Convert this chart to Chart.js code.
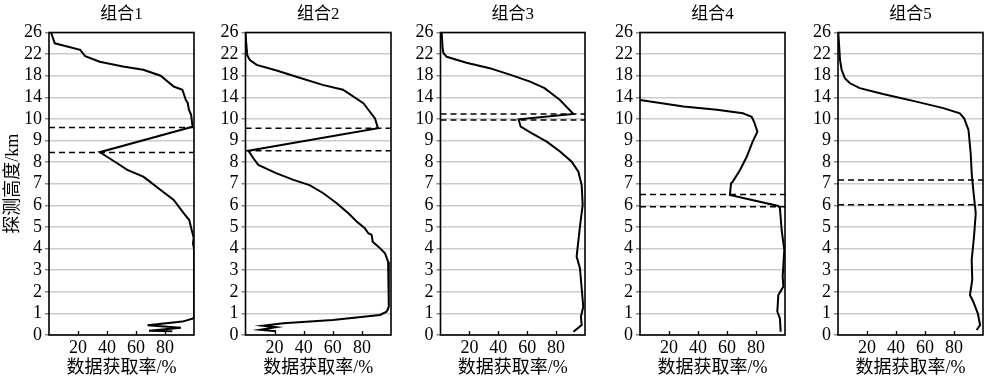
<!DOCTYPE html>
<html><head><meta charset="utf-8">
<script src="https://cdn.jsdelivr.net/npm/chart.js@4.4.1/dist/chart.umd.min.js"></script>
<style>
html,body{margin:0;padding:0;background:#fff;width:1000px;height:379px;overflow:hidden;position:relative}
canvas{position:absolute;top:0}
</style></head><body>
<canvas id="c0"></canvas><canvas id="c1"></canvas><canvas id="c2"></canvas><canvas id="c3"></canvas><canvas id="c4"></canvas>
<script>
// ---- tick labels / categories ----
const yTickLabels = ['0','1','2','3','4','5','6','7','8','9','10','14','18','22','26'];
const xTickValues = [20, 40, 60, 80];
const panelTitles = ['组合1', '组合2', '组合3', '组合4', '组合5'];
const xAxisTitle = '数据获取率/%';
const yAxisTitle = '探测高度/km';

// ---- series: data acquisition rate (%) vs altitude (km) ----
const g1Rate   = [1.4, 4, 21.5, 25, 35, 51, 65, 77, 86, 92, 94.4, 95.6, 96.5, 98, 99, 35, 40, 47, 54, 65, 68, 77, 86, 93, 96.7, 98.4, 99.8, 99.3, 100, 100, 99.5, 92, 68, 91, 69, 85];
const g1Height = [26, 24, 22.8, 21.6, 20.6, 19.7, 19.1, 18, 16, 15.4, 13.5, 13, 11.7, 10.75, 9.64, 8.46, 8.25, 7.95, 7.64, 7.33, 7.18, 6.71, 6.25, 5.63, 5.32, 4.86, 4.5, 4.24, 4.0, 0.85, 0.77, 0.62, 0.45, 0.33, 0.2, 0.17];

const g2Rate   = [0, 0.5, 1.2, 3, 7.7, 21.4, 35, 53, 67, 81, 89, 91, 2, 5.4, 8.8, 21, 33, 44, 53.5, 62.7, 70.7, 76.4, 82, 84.4, 86.7, 87.4, 91.3, 95.9, 98, 98.5, 98.5, 97, 92.4, 60, 26, 12, 21, 10, 21];
const g2Height = [26, 24, 21.8, 20.9, 20, 18.95, 17.8, 16.3, 15.4, 12.9, 10.1, 9.57, 8.53, 8.18, 7.87, 7.49, 7.18, 6.94, 6.56, 6.1, 5.63, 5.25, 4.94, 4.71, 4.63, 4.32, 4.09, 3.78, 3.39, 2.5, 1.31, 1.08, 0.93, 0.69, 0.54, 0.43, 0.36, 0.24, 0.17];

const g3Rate   = [0.8, 1.5, 2, 4.3, 18, 34, 48, 62, 72, 82.7, 92, 54, 55.5, 63, 73.5, 82.7, 90.8, 95.4, 97.7, 98.4, 96.5, 94.2, 96.5, 98.8, 97.2, 97.7, 92];
const g3Height = [26, 23, 22.2, 21.5, 20.4, 19.4, 18.2, 16.9, 15.7, 13.5, 10.9, 9.98, 9.64, 9.34, 8.95, 8.49, 8.02, 7.56, 6.94, 6.02, 5.01, 3.63, 3.09, 1.31, 0.85, 0.46, 0.15];

const g4Rate   = [0, 30, 53, 71, 77, 78.6, 81, 77.7, 73.6, 69, 64, 62.8, 62, 95.4, 96.5, 97.7, 99.5, 98.4, 98.9, 95.4, 94.7, 96.5, 97];
const g4Height = [13.5, 12.3, 11.7, 11.05, 10.4, 9.88, 9.41, 8.95, 8.25, 7.64, 7.1, 7.02, 6.48, 5.97, 5.86, 4.86, 3.94, 2.7, 2.24, 1.85, 1.08, 0.77, 0.15];

const g5Rate   = [0.2, 1.4, 2.5, 4.8, 8.3, 15, 31, 54, 72.6, 84, 87, 90, 91.5, 92.2, 93.3, 95, 93.8, 92.2, 92.6, 91, 93.3, 96.4, 98, 95.6];
const g5Height = [26, 20.9, 19.1, 17.5, 16.6, 15.7, 14.6, 13.2, 12, 11.05, 10.12, 9.49, 8.41, 7.49, 6.71, 5.63, 4.55, 3.47, 2.55, 1.85, 1.54, 1.0, 0.46, 0.23];

// dashed reference altitudes (km)
const g1Dash = [9.6, 8.45];
const g2Dash = [9.57, 8.53];
const g3Dash = [10.9, 9.95];
const g4Dash = [6.5, 5.94];
const g5Dash = [7.17, 6.03];

// ---- layout (pixels) ----
const canvasLeft = [0, 200, 395, 595, 793];
const plotLeft   = [49, 245.5, 440.5, 640, 838];
const plotRight  = [193.5, 390.5, 585, 785, 983];
const H = 379;
const FONT = '"Liberation Serif", "Noto Sans CJK SC", serif';

// altitude axis is piecewise: 0-10 km linear, then 4 km per tick
function toPos(h) { return h <= 10 ? h : 10 + (h - 10) / 4; }

const rates = [g1Rate, g2Rate, g3Rate, g4Rate, g5Rate];
const heights = [g1Height, g2Height, g3Height, g4Height, g5Height];
const dashes = [g1Dash, g2Dash, g3Dash, g4Dash, g5Dash];

const framePlugin = {
  id: 'frame',
  afterDraw(chart, args, opts) {
    const {ctx, chartArea: a, scales} = chart;
    ctx.save();
    ctx.strokeStyle = '#000';
    ctx.lineWidth = 1.6;
    ctx.strokeRect(a.left, a.top, a.right - a.left, a.bottom - a.top);
    ctx.lineWidth = 1.3;
    ctx.beginPath();
    xTickValues.forEach(v => {
      const px = Math.round(scales.x.getPixelForValue(v)) + 0.5;
      ctx.moveTo(px, a.bottom);
      ctx.lineTo(px, a.bottom - 4);
    });
    ctx.stroke();
    // panel title centred over the plot area
    ctx.fillStyle = '#000';
    ctx.font = '17px ' + FONT;
    ctx.textAlign = 'center';
    ctx.textBaseline = 'middle';
    ctx.fillText(opts.text, (a.left + a.right) / 2, 15);
    ctx.restore();
  }
};

for (let i = 0; i < 5; i++) {
  const cv = document.getElementById('c' + i);
  const yW = plotLeft[i] - canvasLeft[i];
  const w = Math.ceil(yW + (plotRight[i] - plotLeft[i]) + 4);
  cv.width = w; cv.height = H;
  cv.style.left = canvasLeft[i] + 'px';
  cv.style.width = w + 'px'; cv.style.height = H + 'px';

  const datasets = [{
    data: rates[i].map((r, k) => ({x: r, y: toPos(heights[i][k])})),
    borderColor: '#000', borderWidth: 2, pointRadius: 0, showLine: true, fill: false, tension: 0
  }];
  dashes[i].forEach(h => datasets.push({
    data: [{x: 0, y: toPos(h)}, {x: 100, y: toPos(h)}],
    borderColor: '#000', borderWidth: 1.5, borderDash: [6, 4], pointRadius: 0, showLine: true, fill: false
  }));

  new Chart(cv, {
    type: 'scatter',
    data: {datasets},
    plugins: [framePlugin],
    options: {
      responsive: false, animation: false, devicePixelRatio: 1,
      layout: {padding: {left: 0, right: 4, top: 32.5, bottom: 0}},
      plugins: {
        legend: {display: false}, tooltip: {enabled: false}, title: {display: false},
        frame: {text: panelTitles[i]}
      },
      scales: {
        x: {
          type: 'linear', min: 0, max: 100,
          afterBuildTicks: s => { s.ticks = xTickValues.map(v => ({value: v})); },
          afterFit: s => { s.height = 44; },
          grid: {display: false, drawTicks: false, tickLength: 0}, border: {display: false},
          ticks: {color: '#000', font: {family: FONT, size: 18}, padding: 2, maxRotation: 0},
          title: {display: true, text: xAxisTitle, color: '#000', font: {family: FONT, size: 18}, padding: {top: 0, bottom: 0}}
        },
        y: {
          type: 'linear', min: 0, max: 14,
          afterBuildTicks: s => { s.ticks = yTickLabels.map((_, k) => ({value: k})); },
          afterFit: s => { s.width = yW; },
          grid: {color: '#cccccc', lineWidth: 1.5, tickLength: 4, tickColor: '#888'},
          border: {display: false},
          ticks: {color: '#000', font: {family: FONT, size: 18}, padding: 3, autoSkip: false,
            callback: v => yTickLabels[v]},
          title: {display: i === 0, text: yAxisTitle, color: '#000', font: {family: FONT, size: 18}, padding: {top: 2, bottom: 0}}
        }
      }
    }
  });
}
</script>
</body></html>
